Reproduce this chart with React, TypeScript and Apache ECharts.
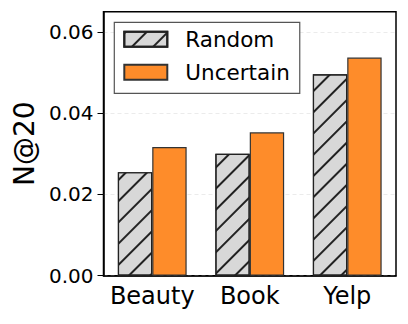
import React, { useEffect, useRef } from "react";
import * as echarts from "echarts";

const categories = ["Beauty", "Book", "Yelp"];
const randomValues = [0.0255, 0.0300, 0.0496];
const uncertainValues = [0.0317, 0.0353, 0.0537];
const yTicks = [0, 0.02, 0.04, 0.06];

export default function App() {
  const ref = useRef<HTMLDivElement>(null);
  useEffect(() => {
    const chart = echarts.init(ref.current!, null, { renderer: "svg" });
    const font = "DejaVu Sans";
    chart.setOption({
      animation: false,
      grid: {
        left: 103.5,
        right: 12,
        top: 11.7,
        bottom: 48.3,
        show: true,
        borderColor: "#000",
        borderWidth: 1.5,
        backgroundColor: "transparent",
      },
      legend: {
        orient: "vertical",
        left: 114.3,
        top: 22.3,
        icon: "rect",
        itemWidth: 43,
        itemHeight: 15,
        itemGap: 11,
        padding: [6, 10, 10, 9],
        borderColor: "#555",
        borderWidth: 1.2,
        backgroundColor: "#fff",
        textStyle: { fontFamily: font, fontSize: 21.5, color: "#000", padding: [0, 0, 0, 13] },
        data: ["Random", "Uncertain"],
      },
      xAxis: {
        type: "category",
        data: categories,
        axisLine: { lineStyle: { color: "#000", width: 1.5 } },
        axisTick: { alignWithLabel: true, length: 5, lineStyle: { color: "#000", width: 1 } },
        axisLabel: { fontFamily: font, fontSize: 24, color: "#000", margin: 8, interval: 0 },
      },
      yAxis: {
        type: "value",
        min: 0,
        max: 0.065,
        interval: 0.02,
        name: "N@20",
        nameLocation: "middle",
        nameGap: 64,
        nameTextStyle: { fontFamily: font, fontSize: 28, color: "#000" },
        axisLine: { show: true, lineStyle: { color: "#000", width: 1.5 } },
        axisTick: { show: true, length: 6, customValues: yTicks, lineStyle: { color: "#000", width: 1 } },
        axisLabel: {
          fontFamily: font,
          fontSize: 20,
          color: "#000",
          margin: 10,
          customValues: yTicks,
          formatter: (v: number) => v.toFixed(2),
        },
        splitLine: { show: true, lineStyle: { color: "#e6e6e6", type: [4, 3], width: 0.8 } },
      },
      series: [
        {
          name: "Random",
          type: "bar",
          data: randomValues,
          barWidth: 34.4,
          barGap: "0%",
          itemStyle: {
            color: "#d8d8d8",
            borderColor: "#222",
            borderWidth: 1.2,
            decal: {
              symbol: "rect",
              symbolSize: 1,
              color: "#222",
              dashArrayX: [1, 0],
              dashArrayY: [1.5, 12.5],
              rotation: -Math.PI / 4,
            },
          },
        },
        {
          name: "Uncertain",
          type: "bar",
          data: uncertainValues,
          barWidth: 34.4,
          barGap: "0%",
          itemStyle: { color: "#fe8c2a", borderColor: "#333", borderWidth: 1.2 },
        },
      ],
    });
    return () => chart.dispose();
  }, []);
  return <div ref={ref} style={{ width: 408, height: 324, position: "absolute", left: 0, top: 0 }} />;
}
